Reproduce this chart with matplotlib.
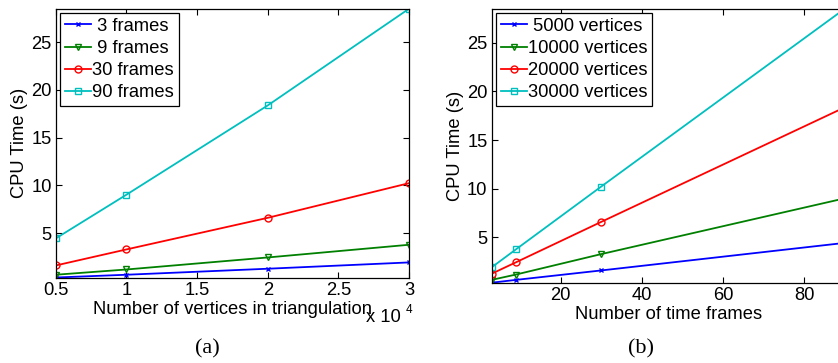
import matplotlib
matplotlib.use("Agg")
import matplotlib.pyplot as plt

plt.rcParams["font.family"] = ["Liberation Sans", "DejaVu Sans"]

# Number of vertices in the triangulation (x 10^4) and time frames
vertices = [0.5, 1.0, 2.0, 3.0]
frames = [3, 9, 30, 90]

# CPU time (s) for each number of time frames, over the vertex counts
t_3_frames = [0.35, 0.64, 1.27, 1.93]
t_9_frames = [0.64, 1.19, 2.45, 3.78]
t_30_frames = [1.61, 3.29, 6.60, 10.23]
t_90_frames = [4.44, 9.02, 18.37, 28.50]

frame_labels = [" 3 frames", " 9 frames", "30 frames", "90 frames"]
vertex_labels = [" 5000 vertices", "10000 vertices", "20000 vertices", "30000 vertices"]

colors = ["#0000ff", "#008000", "#ff0000", "#00bfbf"]
markers = ["x", "v", "o", "s"]
msizes = [3.5, 5, 5, 5]
fills = ["full", "none", "none", "none"]

series = [t_3_frames, t_9_frames, t_30_frames, t_90_frames]
# the same timings arranged per vertex count
by_vertices = [list(col) for col in zip(*series)]

fs = 13.2
fig = plt.figure(figsize=(8.38, 3.63), dpi=100)
ax1 = fig.add_axes([0.0665, 0.2355, 0.4216, 0.7405])
ax2 = fig.add_axes([0.5867, 0.2212, 0.4214, 0.7548])


def style_axes(ax):
    ax.tick_params(direction="in", top=True, right=True, labelsize=fs,
                   length=4, width=0.8, pad=3)
    for s in ax.spines.values():
        s.set_linewidth(0.9)


def add_legend(ax):
    leg = ax.legend(loc="upper left", fontsize=fs, frameon=True, fancybox=False,
                    edgecolor="black", framealpha=1, handlelength=1.45,
                    handletextpad=0.05, labelspacing=0.28, borderpad=0.25,
                    borderaxespad=0.25)
    leg.get_frame().set_linewidth(0.9)
    return leg


for ys, lab, c, m, ms, fl in zip(series, frame_labels, colors, markers, msizes, fills):
    ax1.plot(vertices, ys, color=c, marker=m, markersize=ms, fillstyle=fl,
             markeredgewidth=1.0, linewidth=1.3, label=lab)
ax1.set_xlim(min(vertices), max(vertices))
ymin = min(min(s) for s in series)
ymax = max(max(s) for s in series)
ax1.set_ylim(ymin, ymax)
ax1.set_xticks([0.5, 1, 1.5, 2, 2.5, 3])
ax1.set_xticklabels(["0.5", "1", "1.5", "2", "2.5", "3"])
ax1.set_yticks([5, 10, 15, 20, 25])
ax1.set_xlabel("Number of vertices in triangulation", fontsize=fs, labelpad=1.5)
ax1.set_ylabel("CPU Time (s)", fontsize=fs, labelpad=2)
style_axes(ax1)
add_legend(ax1)
fig.text(0.437, 0.113, "x 10", fontsize=fs, ha="left", va="baseline")
fig.text(0.484, 0.138, "4", fontsize=8.5, ha="left", va="baseline")

for ys, lab, c, m, ms, fl in zip(by_vertices, vertex_labels, colors, markers, msizes, fills):
    ax2.plot(frames, ys, color=c, marker=m, markersize=ms, fillstyle=fl,
             markeredgewidth=1.0, linewidth=1.3, label=lab)
ax2.set_xlim(min(frames), max(frames))
ax2.set_ylim(ymin, ymax)
ax2.set_xticks([20, 40, 60, 80])
ax2.set_yticks([5, 10, 15, 20, 25])
ax2.set_xlabel("Number of time frames", fontsize=fs, labelpad=1.5)
ax2.set_ylabel("CPU Time (s)", fontsize=fs, labelpad=2)
style_axes(ax2)
add_legend(ax2)

serif = ["Liberation Serif", "DejaVu Serif"]
fig.text(0.248, 0.04, "(a)", fontsize=16, family=serif, ha="center", va="center")
fig.text(0.765, 0.04, "(b)", fontsize=16, family=serif, ha="center", va="center")

fig.savefig("out.png", dpi=100)
